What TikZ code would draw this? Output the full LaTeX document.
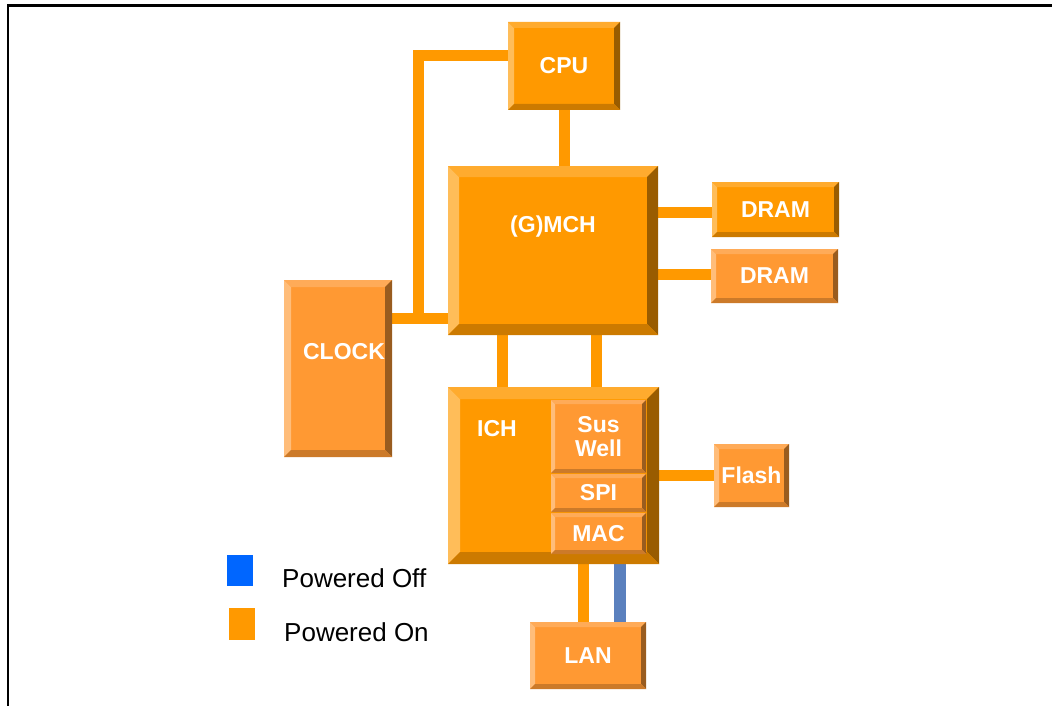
\documentclass[tikz,border=0pt]{standalone}
\usepackage{fontspec}
\setmainfont{Liberation Sans}
\usetikzlibrary{backgrounds}

\definecolor{poweron}{HTML}{FF9900}
\definecolor{powerlite}{HTML}{FF9933}
\definecolor{poweroff}{HTML}{0066FF}
\definecolor{offbus}{RGB}{90,128,190}

% four bevel faces of a raised box: #1 base colour, #2 bevel width
\newcommand\bevelfaces[2]{%
  \fill[#1!65!white] (path picture bounding box.north west) -- ([xshift=#2,yshift=-#2]path picture bounding box.north west)
    -- ([xshift=#2,yshift=#2]path picture bounding box.south west) -- (path picture bounding box.south west) -- cycle;
  \fill[#1!82!white] (path picture bounding box.north west) -- (path picture bounding box.north east)
    -- ([xshift=-#2,yshift=-#2]path picture bounding box.north east) -- ([xshift=#2,yshift=-#2]path picture bounding box.north west) -- cycle;
  \fill[#1!60!black] (path picture bounding box.north east) -- (path picture bounding box.south east)
    -- ([xshift=-#2,yshift=#2]path picture bounding box.south east) -- ([xshift=-#2,yshift=-#2]path picture bounding box.north east) -- cycle;
  \fill[#1!80!black] (path picture bounding box.south west) -- (path picture bounding box.south east)
    -- ([xshift=-#2,yshift=#2]path picture bounding box.south east) -- ([xshift=#2,yshift=#2]path picture bounding box.south west) -- cycle;
}
\newcommand\boxfont{\bfseries\fontsize{23}{24}\selectfont}

\tikzset{
  bevel/.style 2 args={fill=#1, inner sep=0pt, outer sep=0pt, text=white, font=\boxfont,
    path picture={\bevelfaces{#1}{#2}}},
  onbox/.style={bevel={poweron}{#1}},
  litebox/.style={bevel={powerlite}{#1}},
  boxlabel/.style={text=white, font=\boxfont, inner sep=0pt},
  bus/.style={line width=11pt, draw=poweron},
  keybox/.style={inner sep=0pt, minimum width=26pt},
  keytext/.style={anchor=west, inner sep=0pt, font=\fontsize{26}{28}\selectfont}
}

\begin{document}
\begin{tikzpicture}[x=1pt, y=-1pt]
\useasboundingbox (0,0) rectangle (1052,706);

% frame
\draw[line width=2.2pt] (8,706) -- (8,5.5) -- (1052,5.5);

% chips
\node[onbox=6pt, minimum width=112pt, minimum height=88pt] (cpu) at (564,66) {CPU};
\node[onbox=11pt, minimum width=210pt, minimum height=169pt] (gmch) at (553,250.5) {};
\node[litebox=7pt, minimum width=108pt, minimum height=177pt] (clock) at (338,368.5) {};
\node[onbox=5pt, minimum width=127pt, minimum height=55pt] (dram1) at (775.5,209.5) {DRAM};
\node[litebox=5pt, minimum width=127pt, minimum height=54pt] (dram2) at (774.5,276) {DRAM};
\node[onbox=12pt, minimum width=211pt, minimum height=177pt] (ich) at (553.5,475.5) {};
\node[litebox=4pt, minimum width=95pt, minimum height=73pt, align=center] (suswell) at (598.5,436.5) {Sus\\Well};
\node[litebox=4pt, minimum width=95pt, minimum height=38pt] (spi) at (598.5,493) {SPI};
\node[litebox=4pt, minimum width=95pt, minimum height=41pt] (mac) at (598.5,533.5) {MAC};
\node[litebox=5pt, minimum width=75pt, minimum height=63pt] (flash) at (751.5,475.5) {Flash};
\node[litebox=5pt, minimum width=116pt, minimum height=67pt] (lan) at (588,655.5) {LAN};

\node[boxlabel] (gmchlabel) at (553,227) {(G)MCH};
\node[boxlabel] (ichlabel) at (497,429) {ICH};
\node[boxlabel] (clocklabel) at (344,352) {CLOCK};

% buses
\begin{pgfonlayer}{background}
\coordinate (clkjoin) at (418,318);
\draw[bus] (cpu.south) -- (cpu.south |- gmch.north);
\draw[bus] ([yshift=10pt]cpu.west) -| (clkjoin);
\draw[bus] (clock.east |- clkjoin) -- (clkjoin -| gmch.west);
\draw[bus] (gmch.east |- 0,212) -- (dram1.west |- 0,212);
\draw[bus] (gmch.east |- 0,274) -- (dram2.west |- 0,274);
\draw[bus] ([xshift=-51pt]gmch.south) -- ([xshift=-51pt]gmch.south |- ich.north);
\draw[bus] ([xshift=43pt]gmch.south) -- ([xshift=43pt]gmch.south |- ich.north);
\draw[bus] (ich.east |- flash) -- (flash.west);
\draw[bus] ([xshift=-4.5pt]lan.north) -- ([xshift=-4.5pt]lan.north |- ich.south);
\draw[bus, line width=12pt, draw=offbus] ([xshift=32pt]lan.north) -- ([xshift=32pt]lan.north |- ich.south);
\end{pgfonlayer}

% legend
\node[keybox, fill=poweroff, minimum height=31pt] (offkey) at (240,570.5) {};
\node[keybox, fill=poweron, minimum height=32pt] (onkey) at (242,624) {};
\node[keytext] (offtext) at (282,578) {Powered Off};
\node[keytext] (ontext) at (284,632) {Powered On};
\end{tikzpicture}
\end{document}
